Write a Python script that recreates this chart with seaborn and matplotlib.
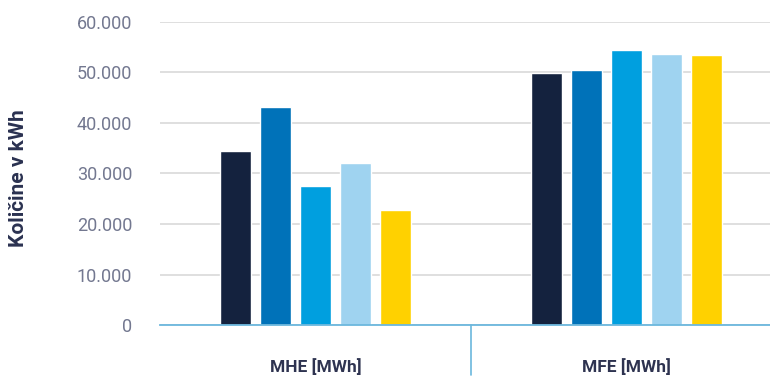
import pandas as pd
import matplotlib.pyplot as plt
import seaborn as sns
from matplotlib.ticker import FuncFormatter

# Data
categories = ["MHE [MWh]", "MFE [MWh]"]
series = ["s1", "s2", "s3", "s4", "s5"]
mhe_values = [34400, 43100, 27600, 32000, 22700]
mfe_values = [49900, 50400, 54400, 53600, 53400]
colors = ["#14223e", "#0072b9", "#009fdf", "#9fd3f0", "#ffd100"]

df = pd.DataFrame({
    "category": [categories[0]] * 5 + [categories[1]] * 5,
    "series": series * 2,
    "value": mhe_values + mfe_values,
})

sns.set_style("white")
plt.rcParams['font.family'] = ['Roboto', 'DejaVu Sans']

fig = plt.figure(figsize=(7.7, 3.79), dpi=100)
ax = fig.add_axes([160 / 770, 1 - 325 / 379, 1 - 160 / 770, (325 - 22) / 379])

sns.barplot(data=df, x="category", y="value", hue="series", palette=colors,
            width=0.643, gap=0.225, legend=False, ax=ax, saturation=1)

ax.set_ylim(0, 60000)
ax.set_xlim(-0.5, 1.463)
ax.set_yticks(range(0, 60001, 10000))
ax.yaxis.set_major_formatter(FuncFormatter(lambda v, p: f"{int(v):,}".replace(",", ".")))
ax.grid(axis="y", color="#d9d9d9", linewidth=1.2)
ax.set_axisbelow(True)
for s in ["top", "right", "left"]:
    ax.spines[s].set_visible(False)
ax.spines["bottom"].set_color("#6bb7dd")
ax.spines["bottom"].set_linewidth(1.3)

ax.tick_params(axis="y", length=0, pad=20, labelsize=13, labelcolor="#737890")
ax.tick_params(axis="x", length=0, pad=24, labelsize=12.5, labelcolor="#2e3350")
for lbl in ax.get_xticklabels():
    lbl.set_fontweight("bold")

# divider between the two groups
ax.plot([0.5, 0.5], [0, -0.165], transform=ax.get_xaxis_transform(),
        color="#6bb7dd", linewidth=1.2, clip_on=False)

ax.set_xlabel("")
ax.set_ylabel("")
fig.text(9 / 770, 1 - 178 / 379, "Količine v kWh", rotation=90, va="center", ha="left",
         fontsize=15, fontweight="bold", color="#2a3150")

fig.savefig("out.png", dpi=100)
